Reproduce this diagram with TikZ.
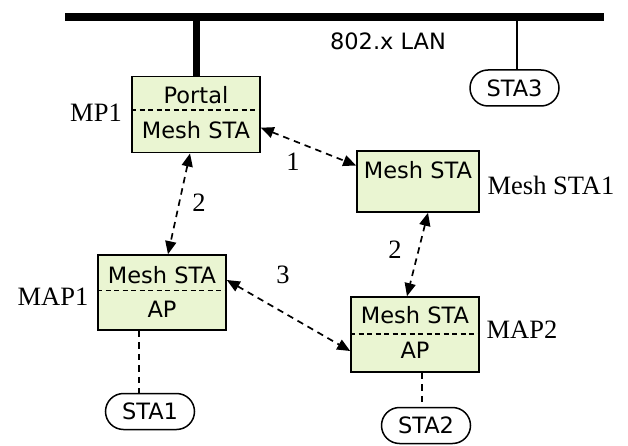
\documentclass[tikz,border=0pt]{standalone}
\usepackage{fontspec}
\setmainfont{Liberation Serif}
\newfontfamily\boxfont{DejaVu Sans}
\usepackage{tikz}
\usetikzlibrary{calc,shapes.misc,positioning,arrows.meta}
\definecolor{meshgreen}{RGB}{234,245,210}
\tikzset{MeshBox/.style={draw,line width=1.6pt,fill=meshgreen,rectangle,inner sep=0pt,minimum width=#1},
  MeshBox/.default=128pt,
  Sta/.style={draw,line width=1.5pt,rounded rectangle,minimum width=89pt,minimum height=36pt,inner sep=0pt,font=\boxfont\fontsize{22.5}{26}\selectfont},
  BoxText/.style={font=\boxfont\fontsize{22.5}{26}\selectfont,inner sep=0pt},
  SideText/.style={font=\fontsize{26.5}{28}\selectfont,inner sep=0pt},
  Split/.style={dash pattern=on 5pt off 3.5pt,line width=1.5pt},
  Link/.style={{Triangle[length=13pt,width=11pt]}-{Triangle[length=13pt,width=11pt]},dash pattern=on 6.5pt off 5pt,line width=1.7pt},
  Wire/.style={dash pattern=on 6.5pt off 5pt,line width=1.7pt},
  Lan/.style={line width=8pt}}

\begin{document}
\begin{tikzpicture}[x=1pt,y=-1pt]
            \useasboundingbox (0,0) rectangle (628,446);
            \coordinate (lanL) at (65,17.5);
            \coordinate (lanR) at (604,17.5);
            \draw[Lan] (lanL) -- (lanR);
            \node[BoxText] (lan) at (388,41) {802.x LAN};
            \node[MeshBox,minimum height=76pt] (mp1) at (196,114.7) {};
            \node[MeshBox=122pt,minimum height=61pt] (msta1) at (418,181.5) {};
            \node[MeshBox,minimum height=75pt] (map1) at (162,292.5) {};
            \node[MeshBox,minimum height=75pt] (map2) at (415,334.5) {};
            \draw[Lan,line width=7pt] (mp1.north) -- (mp1.north |- lanL);
            \draw[Split] (mp1.west |- 0,110) -- (mp1.east |- 0,110);
            \draw[Split] (map1.west |- 0,290.7) -- (map1.east |- 0,290.7);
            \draw[Split] (map2.west |- 0,334) -- (map2.east |- 0,334);
            \node[BoxText] (mp1a) at (196,95) {Portal};
            \node[BoxText] (mp1b) at (196,130) {Mesh STA};
            \node[BoxText] (msta1a) at (418,170) {Mesh STA};
            \node[BoxText] (map1a) at (162,275) {Mesh STA};
            \node[BoxText] (map1b) at (162,309) {AP};
            \node[BoxText] (map2a) at (415,315) {Mesh STA};
            \node[BoxText] (map2b) at (415,350) {AP};
            \node[SideText] (mp1l) at (96,113) {MP1};
            \node[SideText] (msta1l) at (551,185) {Mesh STA1};
            \node[SideText] (map1l) at (53,297) {MAP1};
            \node[SideText] (map2l) at (522,330) {MAP2};
            \node[Sta] (sta1) at (150,411.5) {STA1};
            \node[Sta] (sta2) at (426,425.5) {STA2};
            \node[Sta] (sta3) at (514.5,88) {STA3};
            \draw[line width=1.3pt] (sta3.north) ++(2.5,0) coordinate (s3top) -- (s3top |- lanL);
            \draw[Wire] ([xshift=-23pt]map1.south) -- ([xshift=-11pt]sta1.north);
            \draw[Wire] ([xshift=7pt]map2.south) -- ([xshift=-4pt]sta2.north);
            \draw[Link] ([yshift=-13pt]mp1.east) -- ([yshift=16pt]msta1.west);
            \draw[Link] ([xshift=-6pt]mp1.south) -- ([xshift=6pt]map1.north);
            \draw[Link] ([xshift=10pt]msta1.south) -- ([xshift=-8pt]map2.north);
            \draw[Link] ([yshift=12.5pt]map1.east) -- ([yshift=-16.5pt]map2.west);
            \node[SideText] (n1) at (293,162) {1};
            \node[SideText] (n2) at (199,203) {2};
            \node[SideText] (n3) at (395,250) {2};
            \node[SideText] (n4) at (283,275) {3};
        \end{tikzpicture}
\end{document}
